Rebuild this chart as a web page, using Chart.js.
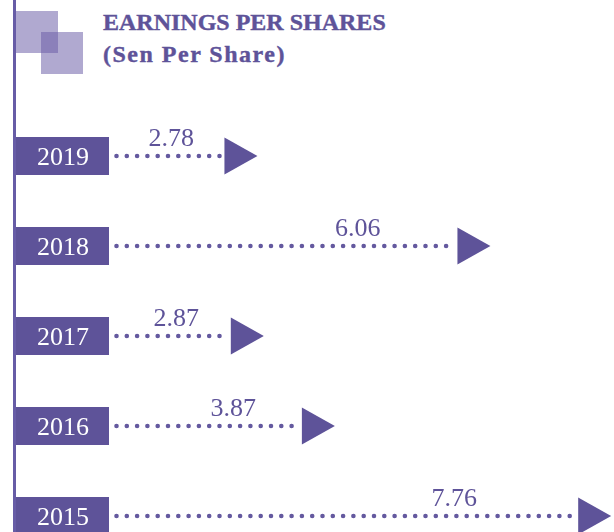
<!DOCTYPE html>
<html>
<head>
<meta charset="utf-8">
<script src="https://cdn.jsdelivr.net/npm/chart.js@4/dist/chart.umd.min.js"></script>
<style>
  html, body { margin: 0; padding: 0; background: #ffffff; overflow: hidden; }
  #wrap { position: relative; width: 614px; height: 532px; overflow: hidden; }
  #chart { position: absolute; left: 0; top: 0; }
  .vline { position: absolute; left: 13px; top: 0; width: 3px; height: 532px; background: #675ca6; }
  .sq { position: absolute; width: 42px; height: 42px; background: rgba(106, 93, 166, 0.53); }
  .title { position: absolute; left: 103px; color: #5e5399; font-family: "Liberation Serif", serif; font-weight: bold; font-size: 24px; white-space: nowrap; line-height: 1; -webkit-text-stroke: 0.4px #5e5399; }
</style>
</head>
<body>
<div id="wrap">
  <div class="sq" style="left:16px; top:11px;"></div>
  <div class="sq" style="left:41px; top:32px;"></div>
  <div class="vline"></div>
  <div class="title" id="t1" style="top:10px;"></div>
  <div class="title" id="t2" style="top:42px; letter-spacing:1.5px;"></div>
  <canvas id="chart" width="614" height="580"></canvas>
</div>
<script>
const years = ['2019', '2018', '2017', '2016', '2015'];
const eps = [2.78, 6.06, 2.87, 3.87, 7.76];
const titleLines = ['EARNINGS PER SHARES', '(Sen Per Share)'];

document.getElementById('t1').textContent = titleLines[0];
document.getElementById('t2').textContent = titleLines[1];

const PURPLE = '#5e5399';

const arrowPlugin = {
  id: 'arrowPlugin',
  afterDatasetsDraw(chart) {
    const ctx = chart.ctx;
    const meta = chart.getDatasetMeta(0);
    const labels = chart.data.labels;
    const values = chart.data.datasets[0].data;
    meta.data.forEach((el, i) => {
      const y = el.y;
      const tip = el.x;
      ctx.save();
      // year box
      ctx.fillStyle = PURPLE;
      ctx.fillRect(16, y - 19, 93, 38);
      ctx.fillStyle = '#ffffff';
      ctx.font = '26px "Liberation Serif", serif';
      ctx.textAlign = 'center';
      ctx.textBaseline = 'alphabetic';
      ctx.fillText(labels[i], 63, y + 9);
      // dotted line
      const start = 116.5;
      const triW = 33;
      ctx.strokeStyle = '#64599f';
      ctx.lineWidth = 4.6;
      ctx.lineCap = 'round';
      ctx.setLineDash([0, 10.3]);
      ctx.beginPath();
      ctx.moveTo(start, y);
      ctx.lineTo(tip - triW - 4, y);
      ctx.stroke();
      ctx.setLineDash([]);
      // triangle
      ctx.fillStyle = PURPLE;
      ctx.beginPath();
      ctx.moveTo(tip - triW, y - 18.5);
      ctx.lineTo(tip, y);
      ctx.lineTo(tip - triW, y + 18.5);
      ctx.closePath();
      ctx.fill();
      // value label
      const lx = tip - 0.2 * (tip - start) - 58;
      ctx.fillStyle = PURPLE;
      ctx.font = '26px "Liberation Serif", serif';
      ctx.textAlign = 'center';
      ctx.fillText(values[i].toFixed(2), lx, y - 10);
      ctx.restore();
    });
  }
};

new Chart(document.getElementById('chart'), {
  type: 'bar',
  data: {
    labels: years,
    datasets: [{
      data: eps,
      backgroundColor: 'rgba(0,0,0,0)',
      borderWidth: 0
    }]
  },
  options: {
    indexAxis: 'y',
    responsive: false,
    animation: false,
    layout: { padding: { left: 60, right: 0, top: 111, bottom: 19 } },
    plugins: { legend: { display: false }, tooltip: { enabled: false }, title: { display: false } },
    scales: {
      x: { display: false, min: 0, max: 7.8 },
      y: { display: false }
    }
  },
  plugins: [arrowPlugin]
});
</script>
</body>
</html>
